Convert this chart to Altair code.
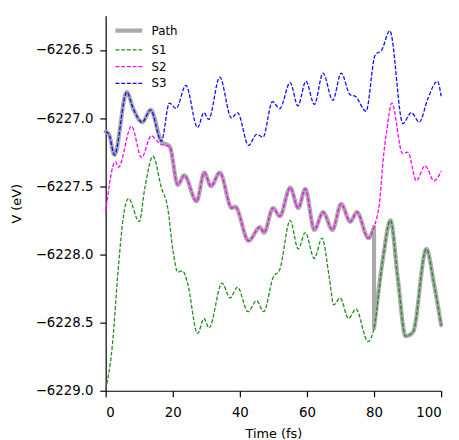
import altair as alt
import pandas as pd

# ---- data ----
s1_t = [0, 1.9, 3.8, 5.3, 6.8, 10.0, 11.7, 14.1, 16.6, 18.5, 20.0, 21.5, 22.9, 24.4, 27.4,
        29.3, 30.8, 34.7, 37.1, 39.3, 42.4, 45.0, 47.1, 49.9, 51.9, 55.0, 57.4, 59.5, 62.2,
        64.5, 66.6, 68.0, 69.9, 72.4, 74.6, 78.2, 80.0, 82.6, 84.9, 87.1, 89.4, 91.6, 95.6,
        97.9, 100]
s1_v = [-6228.99, -6228.69, -6228.09, -6227.72, -6227.59, -6227.76, -6227.51, -6227.28,
        -6227.51, -6227.66, -6227.96, -6228.13, -6228.12, -6228.21, -6228.58, -6228.47,
        -6228.54, -6228.21, -6228.32, -6228.24, -6228.42, -6228.34, -6228.42, -6228.17,
        -6228.11, -6227.75, -6227.96, -6227.84, -6228.03, -6227.88, -6228.16, -6228.37,
        -6228.32, -6228.47, -6228.40, -6228.64, -6228.54, -6228.04, -6227.75, -6228.18,
        -6228.60, -6228.57, -6227.96, -6228.22, -6228.52]

s2_t = [0, 2.9, 3.8, 7.7, 10.7, 13.6, 16.2, 19.1, 21.5, 23.4, 27.1, 29.4, 31.4, 34.0, 37.6,
        38.6, 42.6, 46.0, 47.2, 49.9, 51.9, 55.0, 57.4, 59.5, 62.2, 64.8, 67.6, 70.2, 72.9,
        74.9, 78.3, 80.0, 81.8, 82.7, 83.8, 85.3, 88.5, 90.1, 92.6, 95.2, 97.9, 100]
s2_v = [-6227.69, -6227.32, -6227.36, -6227.06, -6227.29, -6227.13, -6227.19, -6227.21,
        -6227.49, -6227.42, -6227.61, -6227.40, -6227.50, -6227.40, -6227.66, -6227.65,
        -6227.90, -6227.80, -6227.84, -6227.66, -6227.72, -6227.51, -6227.66, -6227.52,
        -6227.82, -6227.69, -6227.82, -6227.63, -6227.76, -6227.69, -6227.88, -6227.80,
        -6227.58, -6227.31, -6227.09, -6226.89, -6227.26, -6227.25, -6227.46, -6227.35,
        -6227.46, -6227.39]

s3_t = [0, 1.0, 2.6, 6.3, 8.2, 10.9, 13.4, 16.6, 19.0, 21.0, 23.9, 27.4, 29.3, 30.7, 34.0,
        37.5, 39.3, 42.6, 45.0, 46.9, 49.7, 51.9, 55.0, 57.3, 59.7, 62.2, 64.8, 67.7, 70.2,
        72.9, 74.4, 77.6, 80.3, 82.3, 84.7, 88.6, 91.1, 93.5, 96.0, 98.9, 100]
s3_v = [-6227.10, -6227.12, -6227.27, -6226.81, -6226.93, -6227.03, -6226.94, -6227.17,
        -6226.89, -6226.93, -6226.76, -6227.07, -6226.96, -6227.01, -6226.70, -6227.00,
        -6226.96, -6227.20, -6227.12, -6227.14, -6226.88, -6226.93, -6226.74, -6226.91,
        -6226.73, -6226.90, -6226.67, -6226.87, -6226.67, -6226.83, -6226.84, -6226.95,
        -6226.54, -6226.50, -6226.36, -6227.04, -6226.96, -6227.03, -6226.86, -6226.73,
        -6226.84]

hop1 = 16.6   # path leaves S3 for S2
hop2 = 80.0   # path jumps from S2 to S1

series_names = ["Path", "S1", "S2", "S3"]
series_colors = ["#aaaaaa", "#1f8c1f", "#ff00ff", "#0a0aff"]
x_ticks = [0, 20, 40, 60, 80, 100]
y_ticks = [-6229.0, -6228.5, -6228.0, -6227.5, -6227.0, -6226.5]

# ---- tables ----
rows = []
for name, ts, vs in [("S1", s1_t, s1_v), ("S2", s2_t, s2_v), ("S3", s3_t, s3_v)]:
    for t, v in zip(ts, vs):
        rows.append({"t": t, "v": v, "series": name})
series_df = pd.DataFrame(rows)

prow = []
for t, v in zip(s3_t, s3_v):
    if t <= hop1:
        prow.append({"t": t, "v": v, "series": "Path", "seg": "a"})
for t, v in zip(s2_t, s2_v):
    if hop1 < t <= hop2:
        prow.append({"t": t, "v": v, "series": "Path", "seg": "a"})
prow.append({"t": hop2, "v": s2_v[s2_t.index(hop2)], "series": "Path", "seg": "c"})
prow.append({"t": hop2, "v": s1_v[s1_t.index(hop2)], "series": "Path", "seg": "c"})
for t, v in zip(s1_t, s1_v):
    if t >= hop2:
        prow.append({"t": t, "v": v, "series": "Path", "seg": "b"})
path_df = pd.DataFrame(prow)

FONT = "DejaVu Sans"

x_enc = alt.X("t:Q", scale=alt.Scale(domain=[0, 100], nice=False),
              axis=alt.Axis(values=x_ticks, format="d", title="Time (fs)"))
y_enc = alt.Y("v:Q", scale=alt.Scale(domain=[-6229.0, -6226.25], nice=False, zero=False),
              axis=alt.Axis(values=y_ticks, format=".1f", title="V (eV)"))
color_enc = alt.Color("series:N",
                      scale=alt.Scale(domain=series_names, range=series_colors),
                      legend=alt.Legend(title=None, orient="none", legendX=12.5, legendY=4,
                                        symbolType="M-1.6,0L1.6,0", symbolSize=289,
                                        labelFont=FONT, labelFontSize=12,
                                        labelColor="black", labelOffset=12,
                                        rowPadding=1))
dash_enc = alt.StrokeDash("series:N",
                          scale=alt.Scale(type="ordinal", domain=series_names,
                                          range=[[1, 0], [4, 1.8], [4, 1.8], [4, 1.8]]),
                          legend=alt.Legend(title=None))
width_enc = alt.StrokeWidth("series:N",
                            scale=alt.Scale(type="ordinal", domain=series_names,
                                            range=[4.2, 1.3, 1.3, 1.3]),
                            legend=alt.Legend(title=None))

path_layer = alt.Chart(path_df).mark_line(interpolate="monotone", strokeCap="round",
                                          strokeJoin="round").encode(
    x=x_enc, y=y_enc, color=color_enc, strokeDash=dash_enc, strokeWidth=width_enc,
    detail="seg:N")

series_layer = alt.Chart(series_df).mark_line(interpolate="monotone").encode(
    x=x_enc, y=y_enc, color=color_enc, strokeDash=dash_enc, strokeWidth=width_enc)

chart = alt.layer(path_layer, series_layer).properties(
    width=340, height=380,
    autosize=alt.AutoSizeParams(type="none"),
    padding={"left": 99, "top": 5, "right": 10, "bottom": 47},
).configure_view(stroke=None).configure_axis(
    grid=False, domainColor="black", domainWidth=1.2, tickColor="black", tickWidth=1.2,
    tickSize=6, labelFont=FONT, labelFontSize=13.5, labelColor="black",
    titleFont=FONT, titleFontSize=13, titleFontWeight="normal", titleColor="black",
).configure_axisY(titlePadding=12, labelPadding=7).configure_axisX(titlePadding=9, labelPadding=9)

chart.save("out.html", embed_options={"renderer": "svg", "actions": False})
